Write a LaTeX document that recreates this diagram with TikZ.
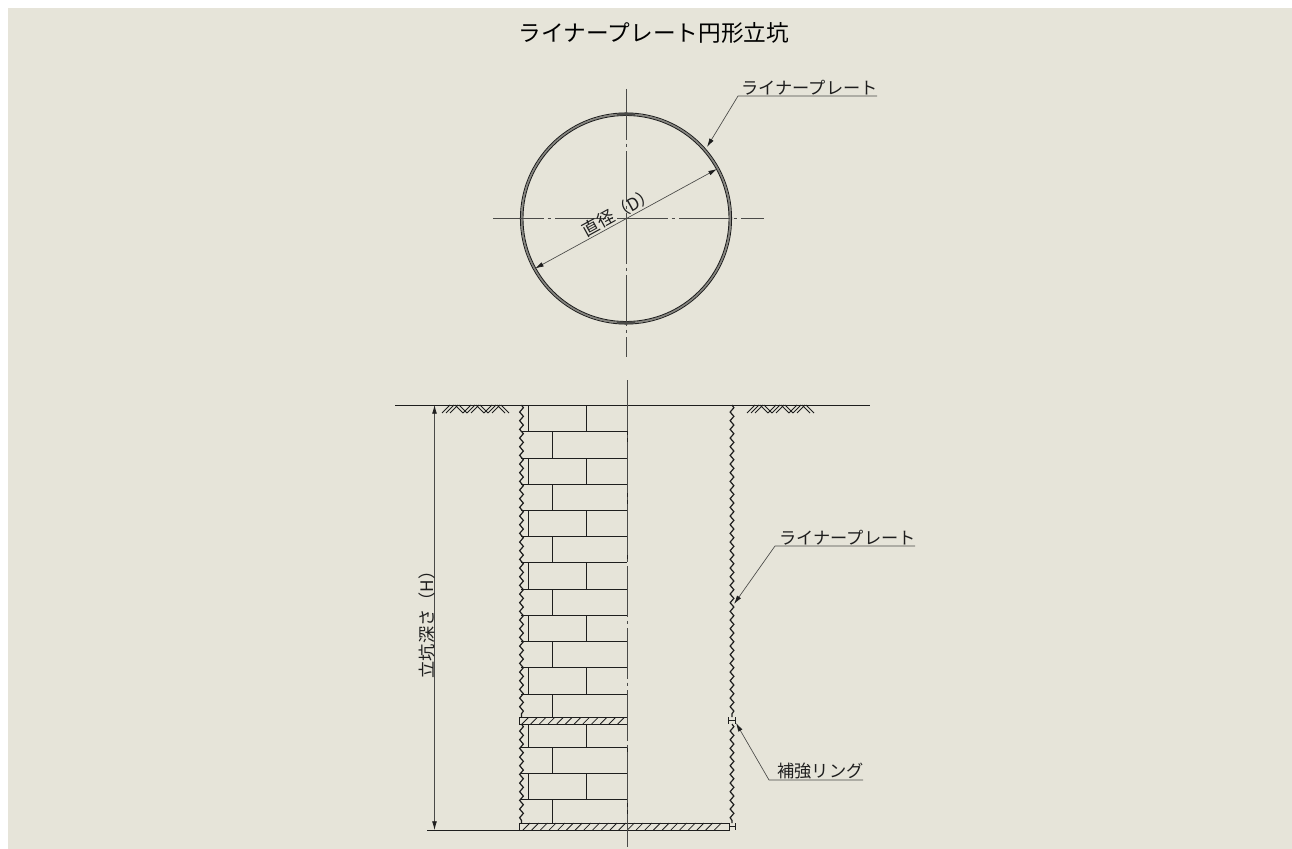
\documentclass[tikz,border=0pt]{standalone}
\usepackage{fontspec}
\newfontfamily\jpfont{Noto Sans CJK JP}
\usetikzlibrary{arrows.meta,decorations.pathmorphing}
\definecolor{bgc}{HTML}{E6E4D9}
\definecolor{ink}{HTML}{1E1E1E}
\definecolor{thin}{HTML}{4A4A48}
\tikzset{
  x=0.75pt,y=-0.75pt,
  part/.style={draw=ink,line width=0.75pt},
  hatchl/.style={draw=ink,line width=0.6pt},
  wavy/.style={draw=ink,line width=0.9pt,decorate,decoration={snake,segment length=6.5pt,amplitude=1.4pt,pre length=0pt,post length=0pt}},
  centerl/.style={draw=thin,line width=0.7pt,dash pattern=on 38pt off 3pt on 2.5pt off 3pt},
  leader/.style={draw=thin,line width=0.5pt},
  tipped/.style={leader,-{Latex[length=6.5pt,width=3.6pt,color=ink]}},
  dimline/.style={leader,{Latex[length=6.5pt,width=3.6pt,color=ink]}-{Latex[length=6.5pt,width=3.6pt,color=ink]}},
  lab/.style={inner sep=0pt,text=ink,font=\jpfont\fontsize{12.9}{13}\selectfont},
  ttl/.style={inner sep=0pt,text=black,font=\jpfont\fontsize{17}{17}\selectfont},
}
\begin{document}
\begin{tikzpicture}
\useasboundingbox (0,0) rectangle (1292,849);
\fill[white] (0,0) rectangle (1292,849);
\fill[bgc] (8,8) rectangle (1292,849);
% title
\node[ttl] (title) at (654,33) {ライナープレート円形立坑};
% plan view
\coordinate (c) at (626,218.5);
\draw[draw=thin,line width=1.3pt,opacity=.6] (c) circle[radius=104.2];
\draw[part,line width=.65pt] (c) circle[radius=105.6];
\draw[part,line width=.65pt] (c) circle[radius=103];
\draw[draw=thin,line width=2pt] (c) ++(85:104.4) arc[start angle=85,end angle=95,radius=104.4];
\draw[draw=thin,line width=2pt] (c) ++(265:104.4) arc[start angle=265,end angle=275,radius=104.4];
\coordinate (pvt) at (626,89); \coordinate (pvb) at (626,357);
\coordinate (pvl) at (493,218.5); \coordinate (pvr) at (764,218.5);
\draw[centerl] (pvt) -- (pvb);
\draw[centerl] (pvl) -- (pvr);
\coordinate (d1) at (535,268.5); \coordinate (d2) at (717,169);
\draw[dimline] (d1) -- (d2);
\node[lab,rotate=28.7] (dlab) at (618.5,212) {直径（D）};
\coordinate (ptip1) at (707,147);
\coordinate (pk1) at (738,96); \coordinate (pe1) at (877,96);
\draw[tipped] (pe1) -- (pk1) -- (ptip1);
\node[lab,anchor=south] (l1) at (809.5,95.5) {ライナープレート};
% ground
\coordinate (gl) at (395,405); \coordinate (gr) at (870,405);
\draw[part] (gl) -- (gr);
\foreach \o in {0,305}{
  \begin{scope}[xshift=\o*0.75pt]
  \foreach \a in {442,446,450,463,467,471,484,488,492}{\draw[hatchl] (\a,413) -- (\a+8,405);}
  \foreach \a in {455,459,476,480,497,501}{\draw[hatchl] (\a,405) -- (\a+8,413);}
  \end{scope}
}
% left plates
\foreach \t/\b in {405/431,458/484,510/536,562/589,615/641,667/694,724/747,773/799}{
  \draw[part] (528,\t) -- (528,\b);
  \draw[part] (586,\t) -- (586,\b);
}
\foreach \t/\b in {431/458,484/510,536/562,589/615,641/667,694/717,747/773,799/823}{
  \draw[part] (552,\t) -- (552,\b);
  \draw[part] (627,\t) -- (627,\b);
}
\foreach \y in {431,458,484,510,536,562,589,615,641,667,694,747,773,799}{
  \draw[part] (521,\y) -- (627,\y);
}
% rings
\draw[part,fill=bgc] (519.5,717.5) rectangle (627,724);
\foreach \a in {522,530.7,...,622}{\draw[hatchl] (\a,724) -- (\a+6.5,717.5);}
\draw[part,fill=bgc] (519.5,823) rectangle (729,830);
\foreach \a in {523,531.7,...,722}{\draw[hatchl] (\a,830) -- (\a+7,823);}
% wavy walls
\coordinate (wl1) at (521.5,405); \coordinate (wl2) at (521.5,717.5);
\coordinate (wl3) at (521.5,724); \coordinate (wl4) at (521.5,823);
\coordinate (wr1) at (732,405); \coordinate (wr2) at (732,717);
\coordinate (wr3) at (732,724); \coordinate (wr4) at (732,823);
\draw[wavy] (wl1) -- (wl2);
\draw[wavy] (wl3) -- (wl4);
\draw[wavy] (wr1) -- (wr2);
\draw[wavy] (wr3) -- (wr4);
% H marks
\draw[part] (728.5,717) -- (728.5,724) (735,717) -- (735,724) (728.5,720.5) -- (735,720.5);
\draw[part] (729,823) -- (729,830) (735,823) -- (735,830) (729,826.5) -- (735,826.5);
% section centre line
\coordinate (svt) at (627,380); \coordinate (svb) at (627,847);
\draw[centerl] (svt) -- (svb);
% depth dimension
\coordinate (bl) at (427,830); \coordinate (br) at (519.5,830);
\draw[part,line width=.6pt] (bl) -- (br);
\coordinate (h1) at (434.5,405); \coordinate (h2) at (434.5,830);
\draw[dimline] (h1) -- (h2);
\node[lab,rotate=90] (hlab) at (426.5,620.5) {立坑深さ（H）};
% section leaders
\coordinate (ptip2) at (734,604);
\coordinate (pk2) at (775,546); \coordinate (pe2) at (915,546);
\draw[tipped] (pe2) -- (pk2) -- (ptip2);
\node[lab,anchor=south] (l2) at (847.5,545.5) {ライナープレート};
\coordinate (rtip) at (736,723);
\coordinate (rk) at (769,780); \coordinate (re) at (863,780);
\draw[tipped] (re) -- (rk) -- (rtip);
\node[lab,anchor=south] (l3) at (820.5,779.5) {補強リング};
\end{tikzpicture}
\end{document}
